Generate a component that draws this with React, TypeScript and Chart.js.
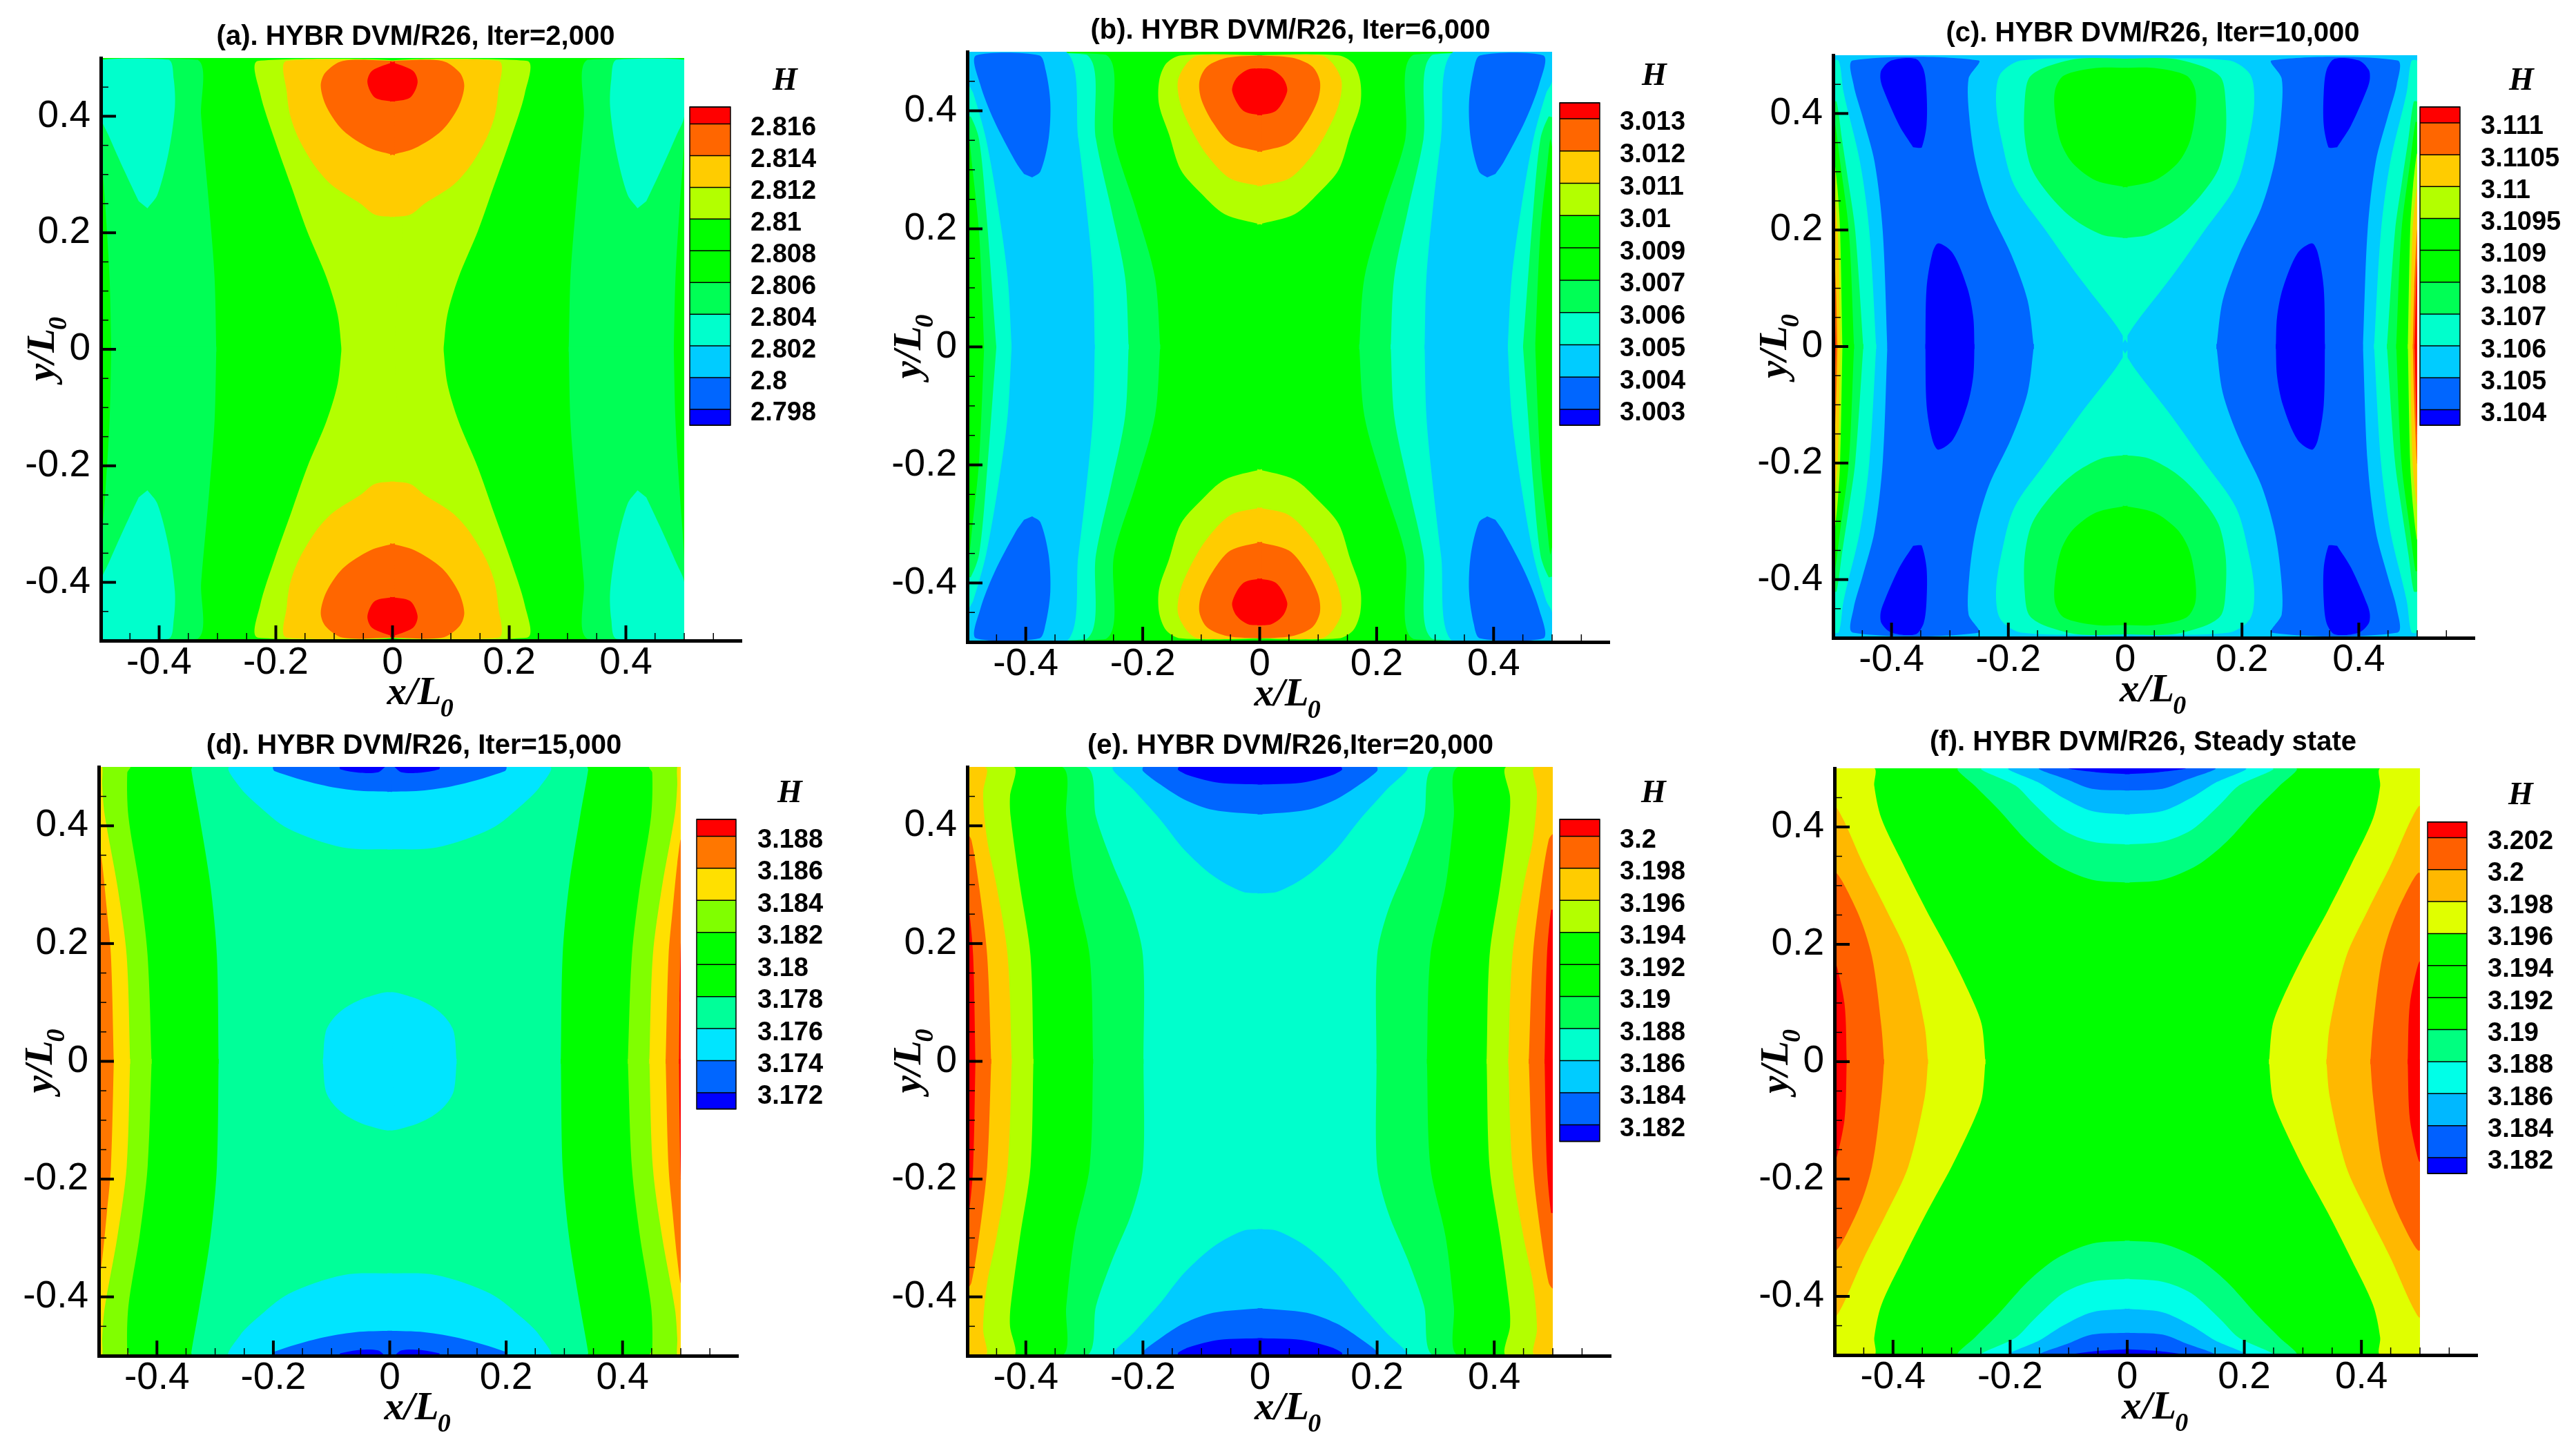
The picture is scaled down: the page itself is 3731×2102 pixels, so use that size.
import React, { useEffect, useRef } from "react";
import { Chart, registerables } from "chart.js";

Chart.register(...registerables);

type P = [number, number];

// ---- colours ----
const RED = "#ff0000", ORG = "#ff6600", YEL = "#ffcc00", LIME = "#b3ff00", GRN = "#00ff00", G55 = "#00ff55", TEAL = "#00ffcc", CYAN = "#00ccff", BLU = "#0066ff", NAVY = "#0000ff";

// ---- titles and colour-bar levels ----
const titleA = "(a). HYBR DVM/R26, Iter=2,000";
const titleB = "(b). HYBR DVM/R26, Iter=6,000";
const titleC = "(c). HYBR DVM/R26, Iter=10,000";
const titleD = "(d). HYBR DVM/R26, Iter=15,000";
const titleE = "(e). HYBR DVM/R26,Iter=20,000";
const titleF = "(f). HYBR DVM/R26, Steady state";

const levelsA = ["2.816", "2.814", "2.812", "2.81", "2.808", "2.806", "2.804", "2.802", "2.8", "2.798"];
const levelsB = ["3.013", "3.012", "3.011", "3.01", "3.009", "3.007", "3.006", "3.005", "3.004", "3.003"];
const levelsC = ["3.111", "3.1105", "3.11", "3.1095", "3.109", "3.108", "3.107", "3.106", "3.105", "3.104"];
const levelsD = ["3.188", "3.186", "3.184", "3.182", "3.18", "3.178", "3.176", "3.174", "3.172"];
const levelsE = ["3.2", "3.198", "3.196", "3.194", "3.192", "3.19", "3.188", "3.186", "3.184", "3.182"];
const levelsF = ["3.202", "3.2", "3.198", "3.196", "3.194", "3.192", "3.19", "3.188", "3.186", "3.184", "3.182"];

const barA = [RED, ORG, YEL, LIME, GRN, GRN, G55, TEAL, CYAN, BLU, NAVY];
const barD = [RED, "#ff7700", "#ffe000", "#80ff00", GRN, GRN, "#00ff99", "#00e5ff", BLU, NAVY];
const barF = [RED, "#ff6000", "#ffb800", "#e0ff00", GRN, GRN, GRN, "#00ff80", "#00ffe8", "#00b8ff", "#0060ff", NAVY];

const majorTicks = [-0.4, -0.2, 0, 0.2, 0.4];
const minorTicksX = [-0.45, -0.35, -0.3, -0.25, -0.15, -0.1, -0.05, 0.05, 0.1, 0.15, 0.25, 0.3, 0.35, 0.45, 0.5, 0.55];
const minorTicksY = [-0.45, -0.35, -0.3, -0.25, -0.15, -0.1, -0.05, 0.05, 0.1, 0.15, 0.25, 0.3, 0.35, 0.45];

// ---- contour regions, upper right quadrant in (x/L0, y/L0); each is reflected into the other three ----
const aSide55: P[] = [[0.302, 0], [0.305, 0.123], [0.314, 0.242], [0.328, 0.4], [0.334, 0.497], [0.5, 0.497], [0.5, 0.36], [0.492, 0.242], [0.485, 0.123], [0.482, 0]];
const aBlobTeal: P[] = [[0.42, 0.242], [0.403, 0.265], [0.384, 0.337], [0.373, 0.416], [0.375, 0.464], [0.384, 0.497], [0.5, 0.497], [0.5, 0.4], [0.487, 0.368], [0.459, 0.305], [0.435, 0.254]];
const aNeckLime: P[] = [[0.087, 0], [0.094, 0.059], [0.113, 0.123], [0.146, 0.202], [0.174, 0.281], [0.202, 0.36], [0.227, 0.44], [0.231, 0.495], [0, 0.495], [0, 0]];
const aLobeYel: P[] = [[0, 0.227], [0.03, 0.231], [0.055, 0.25], [0.103, 0.281], [0.132, 0.313], [0.16, 0.36], [0.175, 0.4], [0.181, 0.44], [0.182, 0.495], [0, 0.495]];
const aLobeOrg: P[] = [[0, 0.333], [0.038, 0.345], [0.085, 0.376], [0.113, 0.416], [0.123, 0.452], [0.115, 0.475], [0.085, 0.495], [0, 0.495]];
const aLobeRed: P[] = [[0, 0.425], [0.03, 0.432], [0.043, 0.458], [0.035, 0.478], [0, 0.494]];

const bSide55: P[] = [[0.17, 0], [0.179, 0.117], [0.212, 0.234], [0.249, 0.352], [0.263, 0.495], [0.5, 0.495], [0.5, 0.34], [0.497, 0.352], [0.492, 0.31], [0.48, 0.195], [0.471, 0]];
const bSideTeal: P[] = [[0.224, 0], [0.23, 0.117], [0.254, 0.234], [0.28, 0.352], [0.296, 0.495], [0.5, 0.495], [0.5, 0.39], [0.494, 0.39], [0.48, 0.352], [0.468, 0.234], [0.45, 0]];
const bSideCyan: P[] = [[0.282, 0], [0.285, 0.117], [0.296, 0.234], [0.31, 0.352], [0.331, 0.5], [0.5, 0.5], [0.5, 0.45], [0.49, 0.43], [0.468, 0.352], [0.447, 0.234], [0.431, 0.117], [0.424, 0]];
const bBlobBlue: P[] = [[0.389, 0.287], [0.375, 0.297], [0.361, 0.352], [0.358, 0.414], [0.366, 0.469], [0.377, 0.494], [0.485, 0.494], [0.478, 0.445], [0.454, 0.383], [0.417, 0.313], [0.403, 0.293]];
const bLobeLime: P[] = [[0, 0.207], [0.06, 0.225], [0.1, 0.26], [0.135, 0.3], [0.155, 0.36], [0.172, 0.41], [0.172, 0.45], [0.16, 0.48], [0.135, 0.494], [0, 0.494]];
const bLobeYel: P[] = [[0, 0.272], [0.05, 0.285], [0.09, 0.325], [0.115, 0.365], [0.135, 0.41], [0.14, 0.45], [0.125, 0.48], [0.105, 0.494], [0, 0.494]];
const bLobeOrg: P[] = [[0, 0.33], [0.05, 0.345], [0.08, 0.38], [0.1, 0.42], [0.103, 0.45], [0.09, 0.475], [0.055, 0.49], [0, 0.494]];
const bLobeRed: P[] = [[0, 0.392], [0.028, 0.4], [0.047, 0.433], [0.04, 0.455], [0.02, 0.47], [0, 0.472]];

const cBlue: P[] = [[0.156, 0], [0.167, 0.079], [0.195, 0.158], [0.233, 0.238], [0.256, 0.317], [0.267, 0.396], [0.268, 0.46], [0.251, 0.491], [0.466, 0.491], [0.465, 0.45], [0.45, 0.396], [0.429, 0.317], [0.415, 0.198], [0.407, 0]];
const cLobeTeal: P[] = [[0, 0.006], [0.018, 0.04], [0.079, 0.119], [0.135, 0.198], [0.19, 0.277], [0.212, 0.357], [0.221, 0.42], [0.214, 0.467], [0.177, 0.491], [0, 0.494]];
const cLobe55: P[] = [[0, 0.186], [0.04, 0.192], [0.09, 0.22], [0.13, 0.26], [0.16, 0.305], [0.172, 0.36], [0.172, 0.42], [0.165, 0.46], [0.14, 0.478], [0.08, 0.494], [0, 0.494]];
const cLobeGrn: P[] = [[0, 0.273], [0.05, 0.285], [0.09, 0.315], [0.11, 0.35], [0.12, 0.4], [0.12, 0.44], [0.105, 0.465], [0.05, 0.478], [0, 0.478]];
const cBlobNavyTop: P[] = [[0.354, 0.341], [0.348, 0.342], [0.34, 0.38], [0.34, 0.436], [0.345, 0.475], [0.359, 0.494], [0.4, 0.491], [0.417, 0.475], [0.419, 0.46], [0.415, 0.444], [0.387, 0.38], [0.363, 0.342]];
const cBlobNavyMid: P[] = [[0.258, 0], [0.26, 0.05], [0.27, 0.1], [0.295, 0.16], [0.32, 0.177], [0.33, 0.16], [0.34, 0.1], [0.342, 0]];
const cEdgeTeal: P[] = [[0.426, 0], [0.438, 0.198], [0.454, 0.317], [0.482, 0.436], [0.49, 0.49], [0.5, 0.49], [0.5, 0]];
const cEdge55: P[] = [[0.448, 0], [0.462, 0.198], [0.473, 0.277], [0.485, 0.357], [0.494, 0.42], [0.5, 0.42], [0.5, 0]];
const cEdgeGrn: P[] = [[0.464, 0], [0.473, 0.198], [0.488, 0.317], [0.497, 0.385], [0.5, 0.385], [0.5, 0]];
const cEdgeLime: P[] = [[0.484, 0], [0.488, 0.198], [0.493, 0.277], [0.5, 0.33], [0.5, 0]];
const cEdgeYel: P[] = [[0.488, 0], [0.492, 0.198], [0.5, 0.27], [0.5, 0]];
const cEdgeOrg: P[] = [[0.4925, 0], [0.495, 0.1], [0.5, 0.2], [0.5, 0]];
const cEdgeRed: P[] = [[0.4955, 0], [0.4975, 0.08], [0.5, 0.15], [0.5, 0]];

const dEdgeGrn: P[] = [[0.294, 0], [0.297, 0.179], [0.308, 0.298], [0.327, 0.416], [0.341, 0.495], [0.34, 0.5], [0.5, 0.5], [0.5, 0]];
const dEdgeLime: P[] = [[0.409, 0], [0.416, 0.179], [0.43, 0.298], [0.449, 0.416], [0.451, 0.49], [0.446, 0.5], [0.5, 0.5], [0.5, 0]];
const dEdgeYel: P[] = [[0.446, 0], [0.452, 0.179], [0.468, 0.298], [0.49, 0.42], [0.494, 0.47], [0.494, 0.5], [0.5, 0.5], [0.5, 0]];
const dEdgeOrg: P[] = [[0.474, 0], [0.479, 0.179], [0.486, 0.257], [0.494, 0.336], [0.5, 0.375], [0.5, 0]];
const dEdgeRed: P[] = [[0.497, 0], [0.498, 0.1], [0.5, 0.2], [0.5, 0]];
const dCentreCyan: P[] = [[0.115, 0], [0.11, 0.05], [0.095, 0.075], [0.07, 0.095], [0.035, 0.11], [0, 0.114], [0, 0]];
const dLobeCyan: P[] = [[0, 0.36], [0.08, 0.363], [0.174, 0.395], [0.23, 0.438], [0.257, 0.465], [0.275, 0.5], [0, 0.5]];
const dLobeBlue: P[] = [[0, 0.4576], [0.06, 0.46], [0.12, 0.47], [0.198, 0.493], [0.2, 0.5], [0, 0.5]];
const dLobeNavy: P[] = [[0.008, 0.5], [0.02, 0.491], [0.05, 0.49], [0.085, 0.496], [0.086, 0.5]];

const eEdge55: P[] = [[0.199, 0], [0.2, 0.179], [0.219, 0.257], [0.252, 0.336], [0.28, 0.415], [0.297, 0.5], [0.5, 0.5], [0.5, 0]];
const eEdgeGrn: P[] = [[0.285, 0], [0.291, 0.179], [0.317, 0.298], [0.331, 0.416], [0.338, 0.5], [0.5, 0.5], [0.5, 0]];
const eEdgeLime: P[] = [[0.387, 0], [0.392, 0.179], [0.41, 0.298], [0.426, 0.416], [0.427, 0.45], [0.42, 0.5], [0.5, 0.5], [0.5, 0]];
const eEdgeYel: P[] = [[0.424, 0], [0.431, 0.179], [0.45, 0.298], [0.466, 0.376], [0.473, 0.455], [0.466, 0.493], [0.47, 0.5], [0.5, 0.5], [0.5, 0]];
const eEdgeOrg: P[] = [[0.459, 0], [0.466, 0.179], [0.48, 0.298], [0.493, 0.376], [0.5, 0.385], [0.5, 0]];
const eEdgeRed: P[] = [[0.486, 0], [0.49, 0.179], [0.497, 0.257], [0.5, 0.257], [0.5, 0]];
const eLobeCyan: P[] = [[0, 0.285], [0.03, 0.288], [0.08, 0.315], [0.13, 0.36], [0.17, 0.41], [0.215, 0.46], [0.25, 0.5], [0, 0.5]];
const eLobeBlue: P[] = [[0, 0.419], [0.08, 0.427], [0.13, 0.445], [0.17, 0.47], [0.2, 0.493], [0.199, 0.5], [0, 0.5]];
const eLobeNavy: P[] = [[0, 0.47], [0.07, 0.473], [0.12, 0.485], [0.14, 0.495], [0.138, 0.5], [0, 0.5]];

const fEdgeLime: P[] = [[0.242, 0], [0.248, 0.061], [0.262, 0.1], [0.3, 0.179], [0.343, 0.258], [0.383, 0.337], [0.42, 0.415], [0.432, 0.47], [0.432, 0.5], [0.5, 0.5], [0.5, 0]];
const fEdgeAmb: P[] = [[0.34, 0], [0.346, 0.061], [0.374, 0.179], [0.411, 0.258], [0.451, 0.337], [0.486, 0.415], [0.5, 0.435], [0.5, 0]];
const fEdgeOrg: P[] = [[0.415, 0], [0.42, 0.061], [0.436, 0.179], [0.462, 0.258], [0.5, 0.32], [0.5, 0]];
const fEdgeRed: P[] = [[0.479, 0], [0.483, 0.1], [0.5, 0.17], [0.5, 0]];
const fLobe80: P[] = [[0, 0.305], [0.06, 0.31], [0.12, 0.335], [0.17, 0.375], [0.22, 0.43], [0.26, 0.47], [0.288, 0.5], [0, 0.5]];
const fLobeE8: P[] = [[0, 0.37], [0.06, 0.375], [0.11, 0.395], [0.16, 0.44], [0.19, 0.47], [0.248, 0.5], [0, 0.5]];
const fLobeB8: P[] = [[0, 0.421], [0.06, 0.427], [0.11, 0.45], [0.15, 0.475], [0.202, 0.5], [0, 0.5]];
const fLobe60: P[] = [[0, 0.462], [0.06, 0.465], [0.1, 0.48], [0.15, 0.5], [0, 0.5]];
const fLobeNavy: P[] = [[0, 0.49], [0.05, 0.493], [0.1, 0.5], [0, 0.5]];

// paint order: first entry lowest
const layersA: [string, P[]][] = [[G55, aSide55], [TEAL, aBlobTeal], [LIME, aNeckLime], [YEL, aLobeYel], [ORG, aLobeOrg], [RED, aLobeRed]];
const layersB: [string, P[]][] = [[G55, bSide55], [TEAL, bSideTeal], [CYAN, bSideCyan], [BLU, bBlobBlue], [LIME, bLobeLime], [YEL, bLobeYel], [ORG, bLobeOrg], [RED, bLobeRed]];
const layersC: [string, P[]][] = [[BLU, cBlue], [TEAL, cLobeTeal], [G55, cLobe55], [GRN, cLobeGrn], [NAVY, cBlobNavyTop], [NAVY, cBlobNavyMid], [TEAL, cEdgeTeal], [G55, cEdge55], [GRN, cEdgeGrn], [LIME, cEdgeLime], [YEL, cEdgeYel], [ORG, cEdgeOrg], [RED, cEdgeRed]];
const layersD: [string, P[]][] = [[GRN, dEdgeGrn], ["#80ff00", dEdgeLime], ["#ffe000", dEdgeYel], ["#ff7700", dEdgeOrg], [RED, dEdgeRed], ["#00e5ff", dCentreCyan], ["#00e5ff", dLobeCyan], [BLU, dLobeBlue], [NAVY, dLobeNavy]];
const layersE: [string, P[]][] = [[G55, eEdge55], [GRN, eEdgeGrn], [LIME, eEdgeLime], [YEL, eEdgeYel], [ORG, eEdgeOrg], [RED, eEdgeRed], [CYAN, eLobeCyan], [BLU, eLobeBlue], [NAVY, eLobeNavy]];
const layersF: [string, P[]][] = [["#e0ff00", fEdgeLime], ["#ffb800", fEdgeAmb], ["#ff6000", fEdgeOrg], [RED, fEdgeRed], ["#00ff80", fLobe80], ["#00ffe8", fLobeE8], ["#00b8ff", fLobeB8], ["#0060ff", fLobe60], [NAVY, fLobeNavy]];

// ---- page layout (pixels) ----
interface Layout {
  box: [number, number, number, number];
  left: number; right: number; top: number; bottom: number; axisEnd: number;
  barX: [number, number]; barTop: number; barFirst: number; barLast: number; barBottom: number;
  labelX: number; hX: number; hY: number; titleX: number; titleY: number;
}
const panels: { title: string; levels: string[]; bar: string[]; base: string; layers: [string, P[]][]; g: Layout }[] = [
  { title: titleA, levels: levelsA, bar: barA, base: GRN, layers: layersA, g: { box: [0, 0, 1240, 1050], left: 146, right: 991, top: 84, bottom: 928, axisEnd: 1074, barX: [999, 1058], barTop: 155, barFirst: 179.5, barLast: 593, barBottom: 616, labelX: 1087, hX: 1137, hY: 130, titleX: 602, titleY: 53.6 } },
  { title: titleB, levels: levelsB, bar: barA, base: GRN, layers: layersB, g: { box: [1240, 0, 1240, 1050], left: 1401, right: 2248, top: 75, bottom: 930, axisEnd: 2331, barX: [2259, 2317], barTop: 149, barFirst: 172, barLast: 593, barBottom: 616, labelX: 2346, hX: 2396, hY: 122.6, titleX: 1869, titleY: 45 } },
  { title: titleC, levels: levelsC, bar: barA, base: CYAN, layers: layersC, g: { box: [2490, 0, 1241, 1050], left: 2655, right: 3501, top: 80, bottom: 924, axisEnd: 3584, barX: [3505, 3563], barTop: 155, barFirst: 178, barLast: 593.4, barBottom: 616, labelX: 3593, hX: 3652, hY: 130, titleX: 3118, titleY: 49 } },
  { title: titleD, levels: levelsD, bar: barD, base: "#00ff99", layers: layersD, g: { box: [0, 1050, 1240, 1052], left: 143, right: 986, top: 1111, bottom: 1964, axisEnd: 1069, barX: [1009, 1066], barTop: 1187, barFirst: 1211.4, barLast: 1583, barBottom: 1606.6, labelX: 1097, hX: 1144, hY: 1162, titleX: 599.5, titleY: 1081 } },
  { title: titleE, levels: levelsE, bar: barA, base: TEAL, layers: layersE, g: { box: [1240, 1050, 1240, 1052], left: 1401, right: 2249, top: 1111, bottom: 1964, axisEnd: 2333, barX: [2259, 2317], barTop: 1187, barFirst: 1211.4, barLast: 1629.4, barBottom: 1653.5, labelX: 2346, hX: 2395, hY: 1162, titleX: 1869, titleY: 1081 } },
  { title: titleF, levels: levelsF, bar: barF, base: GRN, layers: layersF, g: { box: [2490, 1050, 1241, 1052], left: 2657, right: 3505, top: 1113, bottom: 1963, axisEnd: 3588, barX: [3516, 3573], barTop: 1190.7, barFirst: 1213.4, barLast: 1677, barBottom: 1700, labelX: 3603, hX: 3651, hY: 1165, titleX: 3104, titleY: 1075.5 } },
];

const SANS = '"Liberation Sans", Arial, sans-serif';
const SERIF = '"Liberation Serif", "Times New Roman", serif';
const TICK_FONT = 55;

function reflect(poly: P[], sx: number, sy: number) {
  // points on an axis are pushed slightly past it so that the reflected copies overlap without a seam
  return poly.map(([x, y]) => ({ x: (x === 0 ? -0.004 : x) * sx, y: (y === 0 ? -0.004 : y) * sy }));
}

function buildDatasets(base: string, layers: [string, P[]][]) {
  const out: any[] = [];
  const shape = (data: { x: number; y: number }[], color: string, tension: number) => ({
    data, backgroundColor: color, borderWidth: 0, borderColor: color, fill: "shape", showLine: true, pointRadius: 0, pointHoverRadius: 0, tension,
  });
  out.push(shape([{ x: -0.5, y: -0.5 }, { x: 0.5, y: -0.5 }, { x: 0.5, y: 0.5 }, { x: -0.5, y: 0.5 }], base, 0));
  for (const [color, poly] of layers) {
    for (const [sx, sy] of [[1, 1], [-1, 1], [1, -1], [-1, -1]]) out.push(shape(reflect(poly, sx, sy), color, 0.3));
  }
  return out.reverse(); // Chart.js paints the first dataset last
}

function Panel({ p }: { p: (typeof panels)[number] }) {
  const ref = useRef<HTMLCanvasElement>(null);
  useEffect(() => {
    const g = p.g;
    const [bx, by, bw, bh] = g.box;
    const xMax = -0.5 + (g.axisEnd - g.left) / (g.right - g.left);
    const decor = {
      id: "decor",
      afterDatasetsDraw(chart: any) {
        const { ctx, scales } = chart;
        const X = scales.x, Y = scales.y;
        const L = X.left, B = Y.bottom;
        ctx.save();
        // nothing of the field lies past x/L0 = 0.5
        const edge = X.getPixelForValue(0.5);
        ctx.fillStyle = "#fff";
        ctx.fillRect(edge, Y.top - 2, X.right - edge + 2, B - Y.top + 2);
        ctx.strokeStyle = "#000";
        ctx.lineWidth = 1.5;
        for (const v of minorTicksX) { const px = X.getPixelForValue(v); ctx.beginPath(); ctx.moveTo(px, B); ctx.lineTo(px, B - 11); ctx.stroke(); }
        for (const v of minorTicksY) { const py = Y.getPixelForValue(v); ctx.beginPath(); ctx.moveTo(L, py); ctx.lineTo(L + 11, py); ctx.stroke(); }
        ctx.lineWidth = 4;
        for (const v of majorTicks) {
          const px = X.getPixelForValue(v); ctx.beginPath(); ctx.moveTo(px, B); ctx.lineTo(px, B - 22); ctx.stroke();
          const py = Y.getPixelForValue(v); ctx.beginPath(); ctx.moveTo(L, py); ctx.lineTo(L + 22, py); ctx.stroke();
        }
        ctx.restore();
      },
      afterDraw(chart: any) {
        const { ctx } = chart;
        ctx.save();
        ctx.translate(-bx, -by);
        ctx.fillStyle = "#000";
        // title
        ctx.font = `bold 40px ${SANS}`;
        ctx.textAlign = "center";
        ctx.textBaseline = "middle";
        ctx.fillText(p.title, g.titleX, g.titleY);
        // colour bar
        const n = p.levels.length;
        const x0 = g.barX[0], w = g.barX[1] - g.barX[0];
        const edges = [g.barTop];
        for (let i = 0; i < n; i++) edges.push(g.barFirst + ((g.barLast - g.barFirst) * i) / (n - 1));
        edges.push(g.barBottom);
        p.bar.forEach((c, i) => { ctx.fillStyle = c; ctx.fillRect(x0, edges[i], w, edges[i + 1] - edges[i]); });
        ctx.strokeStyle = "#000";
        ctx.lineWidth = 1.5;
        edges.forEach((e) => { ctx.beginPath(); ctx.moveTo(x0, e); ctx.lineTo(x0 + w, e); ctx.stroke(); });
        ctx.strokeRect(x0, g.barTop, w, g.barBottom - g.barTop);
        ctx.fillStyle = "#000";
        ctx.font = `bold 38px ${SANS}`;
        ctx.textAlign = "left";
        p.levels.forEach((t, i) => ctx.fillText(t, g.labelX, edges[i + 1] + 6));
        // H
        ctx.font = `italic bold 46px ${SERIF}`;
        ctx.textAlign = "center";
        ctx.textBaseline = "alphabetic";
        ctx.fillText("H", g.hX, g.hY);
        // axis titles
        const zero = g.left + (g.right - g.left) / 2;
        const mid = g.top + (g.bottom - g.top) / 2;
        const axisLabel = (t: string) => {
          ctx.textAlign = "left";
          ctx.font = `italic bold 57px ${SERIF}`;
          ctx.fillText(t, 0, 0);
          const w0 = ctx.measureText(t).width;
          ctx.font = `italic bold 38px ${SERIF}`;
          ctx.fillText("0", w0 - 2, 18);
        };
        ctx.save();
        ctx.translate(zero - 8, g.bottom + 92);
        axisLabel("x/L");
        ctx.restore();
        ctx.save();
        ctx.translate(g.left - 68, mid + 46);
        ctx.rotate(-Math.PI / 2);
        axisLabel("y/L");
        ctx.restore();
        ctx.restore();
      },
    };
    const chart = new Chart(ref.current!, {
      type: "scatter",
      data: { datasets: buildDatasets(p.base, p.layers) },
      options: {
        animation: false,
        responsive: false,
        devicePixelRatio: 1,
        events: [],
        layout: { padding: { left: 0, top: g.top - by, right: bx + bw - g.axisEnd, bottom: 0 } },
        plugins: { legend: { display: false }, tooltip: { enabled: false }, title: { display: false } },
        scales: {
          x: {
            type: "linear", min: -0.5, max: xMax,
            afterBuildTicks: (s: any) => { s.ticks = majorTicks.map((value) => ({ value })); },
            afterFit: (s: any) => { s.height = by + bh - g.bottom; },
            grid: { display: false, drawTicks: false },
            border: { display: true, color: "#000", width: 5, z: 2 },
            ticks: { color: "#000", font: { family: SANS, size: TICK_FONT }, padding: 0, maxRotation: 0, autoSkip: false, callback: (v: any) => String(Math.round(v * 10) / 10) },
          },
          y: {
            type: "linear", min: -0.5, max: 0.5,
            afterBuildTicks: (s: any) => { s.ticks = majorTicks.map((value) => ({ value })); },
            afterFit: (s: any) => { s.width = g.left - bx; },
            grid: { display: false, drawTicks: false },
            border: { display: true, color: "#000", width: 5, z: 2 },
            ticks: { color: "#000", font: { family: SANS, size: TICK_FONT }, padding: 15, autoSkip: false, callback: (v: any) => String(Math.round(v * 10) / 10) },
          },
        },
      },
      plugins: [decor],
    } as any);
    return () => chart.destroy();
  }, [p]);
  const [bx, by, bw, bh] = p.g.box;
  return <canvas ref={ref} width={bw} height={bh} style={{ position: "absolute", left: bx, top: by, width: bw, height: bh, display: "block" }} />;
}

export default function App() {
  return (
    <div style={{ position: "absolute", left: 0, top: 0, width: 3731, height: 2102, background: "#fff", overflow: "hidden" }}>
      {panels.map((p) => <Panel key={p.title} p={p} />)}
    </div>
  );
}
